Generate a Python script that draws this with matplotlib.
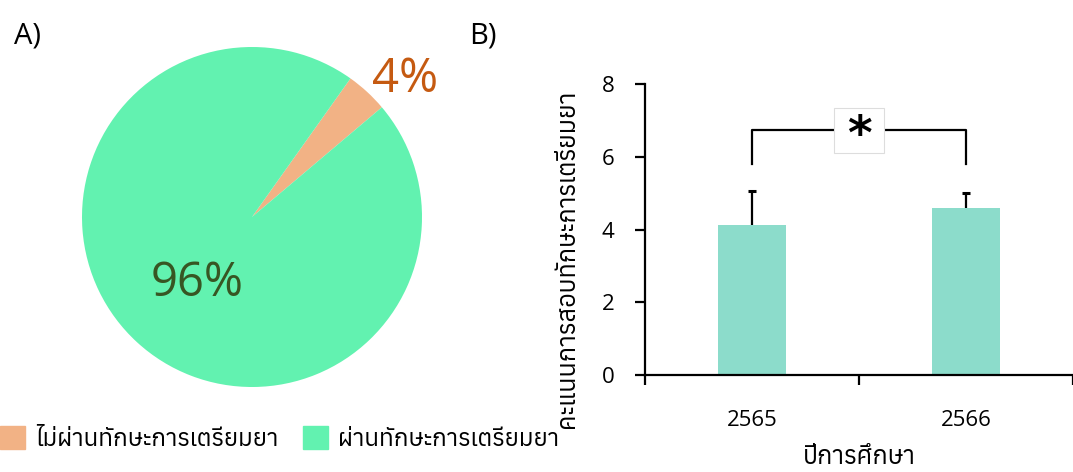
import matplotlib
matplotlib.use("Agg")
import matplotlib.pyplot as plt
from matplotlib import font_manager as fm
from matplotlib.ft2font import FT2Font
from matplotlib.patches import Patch, Rectangle

# look for a font that has Thai glyphs, use Open Sans first for latin/digits
thai_fonts = []
for f in fm.fontManager.ttflist:
    try:
        if 0x0E01 in FT2Font(f.fname).get_charmap():
            thai_fonts.append(f.name)
    except Exception:
        pass
thai_fonts = sorted(set(thai_fonts))
plt.rcParams['font.family'] = ["Open Sans"] + thai_fonts[:1] + ["DejaVu Sans"]

# Dataset
pie_labels = ["ไม่ผ่านทักษะการเตรียมยา", "ผ่านทักษะการเตรียมยา"]
pie_values = [4, 96]
pie_colors = ["#f2b285", "#62f2b0"]
pct_colors = ["#c55a11", "#375623"]

years = ["2565", "2566"]
scores = [4.13, 4.6]
score_err = [0.92, 0.4]
bar_color = "#8cdccb"
y_ticks = [0, 2, 4, 6, 8]

fig = plt.figure(figsize=(10.73, 4.72), dpi=100)

# A) pie
ax1 = fig.add_axes([82/1073, 85/472, 340/1073, 340/472])
wedges, texts, autotexts = ax1.pie(pie_values, colors=pie_colors, startangle=40.2,
                                   counterclock=True, autopct='%d%%', pctdistance=0.5,
                                   textprops={'fontsize': 34})
for t, c in zip(autotexts, pct_colors):
    t.set_color(c)
autotexts[0].set_position((0.90, 0.81))
autotexts[1].set_position((-0.32, -0.39))
ax1.set_xlim(-1, 1)
ax1.set_ylim(-1, 1)

fig.text(27/1073, 1 - 36/472, "A)", fontsize=21, ha='center', va='center')
fig.text(483/1073, 1 - 36/472, "B)", fontsize=21, ha='center', va='center')

handles = [Patch(color=c) for c in pie_colors]
fig.legend(handles, pie_labels, ncol=2, loc='center left', bbox_to_anchor=(0.0, 1 - 439/472),
           frameon=False, fontsize=17.4, handlelength=1.05, handleheight=1.05,
           handletextpad=0.4, columnspacing=1.0, borderpad=0, borderaxespad=0)

# B) bars
ax2 = fig.add_axes([645/1073, 97/472, 428/1073, 291/472])
x = list(range(len(years)))
ax2.bar(x, scores, width=0.315, color=bar_color)
ax2.errorbar(x, scores, yerr=[[0] * len(scores), score_err], fmt='none',
             ecolor='black', elinewidth=1.6, capsize=0)
ax2.plot(x, [s + e for s, e in zip(scores, score_err)], '_', color='black', ms=6, mew=2.2)
ax2.set_xlim(-0.5, 1.47)
ax2.set_ylim(0, 8)
ax2.set_yticks(y_ticks)
ax2.spines['right'].set_color('none')
ax2.spines['top'].set_color('none')
ax2.spines['left'].set_linewidth(1.6)
ax2.spines['bottom'].set_linewidth(1.6)
ax2.tick_params(axis='y', direction='out', length=7, width=1.6, pad=15, labelsize=16)
ax2.set_xticks([-0.5, 0.5, 1.5])
ax2.set_xticklabels([])
ax2.set_xticks(x, minor=True)
ax2.set_xticklabels(years, minor=True)
ax2.tick_params(axis='x', which='major', direction='out', length=7, width=1.6)
ax2.tick_params(axis='x', which='minor', length=0, pad=25, labelsize=16)
ax2.set_xlabel("ปีการศึกษา", fontsize=18, labelpad=10)
ax2.set_ylabel("คะแนนการสอบทักษะการเตรียมยา", fontsize=18)
ax2.yaxis.set_label_coords(-0.152, 0.40)

# significance bracket with boxed star
ax2.plot([0, 0, 1, 1], [5.8, 6.74, 6.74, 5.8], color='black', lw=1.6, clip_on=False)
ax2.add_patch(Rectangle((0.385, 6.10), 0.23, 1.24, fc='white', ec='#dddddd', lw=0.8, zorder=3))
ax2.text(0.5, 6.55, "*", fontsize=34, fontweight='bold', ha='center', va='center',
         family=['DejaVu Sans'], zorder=4)

plt.savefig('out.png', dpi=100)
